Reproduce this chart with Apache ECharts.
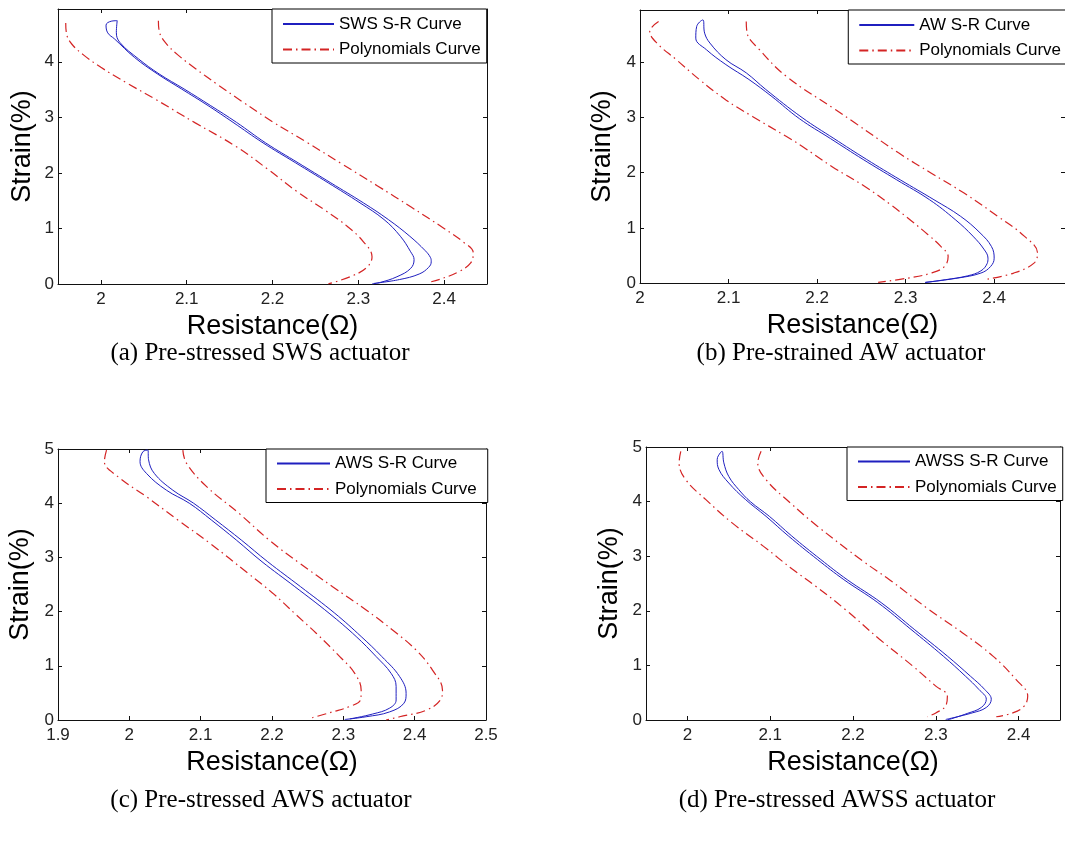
<!DOCTYPE html>
<html>
<head>
<meta charset="utf-8">
<script src="https://cdn.jsdelivr.net/npm/echarts@6.0.0/dist/echarts.min.js"></script>
<style>
html,body{margin:0;padding:0;background:#fff;}
#chart{width:1065px;height:841px;}
</style>
</head>
<body>
<div id="chart"></div>
<script>
// ---------------- DATA ----------------
const captions = ['(a) Pre-stressed SWS actuator', '(b) Pre-strained AW actuator', '(c) Pre-stressed AWS actuator', '(d) Pre-stressed AWSS actuator'];
const curveNames = ['SWS S-R Curve', 'AW S-R Curve', 'AWS S-R Curve', 'AWSS S-R Curve'];
const polyName = 'Polynomials Curve';
const xTitle = 'Resistance(\u03A9)';
const yTitle = 'Strain(%)';

// axis ranges [min, max]
const xRanges = [[1.95, 2.45], [2, 2.48], [1.9, 2.5], [1.95, 2.45]];
const yRanges = [[0, 4.95], [0, 4.95], [0, 5], [0, 5]];

// (a) Pre-stressed SWS: measured S-R loop [resistance, strain]
const swsLoop = [
  [2.316,0],[2.326,0.03],[2.345,0.13],[2.361,0.28],[2.365,0.44],[2.361,0.58],[2.349,0.86],[2.330,1.16],[2.302,1.46],
  [2.265,1.82],[2.227,2.18],[2.189,2.54],[2.154,2.91],[2.125,3.21],[2.094,3.51],[2.066,3.78],[2.039,4.08],[2.016,4.41],
  [2.008,4.52],[2.006,4.66],[2.012,4.73],
  [2.019,4.74],[2.018,4.53],[2.022,4.35],[2.044,4.05],[2.068,3.78],[2.097,3.51],[2.128,3.21],[2.158,2.91],[2.192,2.54],
  [2.230,2.18],[2.268,1.82],[2.306,1.46],[2.335,1.16],[2.360,0.86],[2.378,0.60],[2.384,0.48],[2.385,0.40],[2.382,0.30],
  [2.371,0.18],[2.348,0.08],[2.318,0.01]
];
const swsPolyLow = [
  [1.959,4.70],[1.960,4.50],[1.966,4.32],[1.980,4.12],[2.000,3.90],[2.030,3.62],[2.063,3.33],[2.110,2.90],[2.157,2.48],
  [2.195,2.06],[2.228,1.67],[2.262,1.32],[2.287,1.04],[2.306,0.76],[2.316,0.49],[2.310,0.30],[2.292,0.14],[2.265,0]
];
const swsPolyHigh = [
  [2.067,4.74],[2.068,4.55],[2.075,4.35],[2.090,4.12],[2.110,3.88],[2.135,3.60],[2.165,3.28],[2.200,2.92],[2.240,2.55],
  [2.280,2.17],[2.322,1.77],[2.362,1.38],[2.400,1.00],[2.422,0.76],[2.434,0.56],[2.431,0.38],[2.417,0.22],[2.398,0.10],[2.385,0.04]
];

// (b) Pre-strained AW
const awLoop = [
  [2.322,0.01],[2.345,0.06],[2.370,0.13],[2.385,0.22],[2.392,0.35],[2.393,0.45],[2.389,0.60],[2.376,0.85],[2.356,1.15],
  [2.327,1.51],[2.290,1.87],[2.252,2.24],[2.215,2.62],[2.180,2.98],[2.149,3.38],[2.123,3.69],[2.097,3.96],[2.075,4.23],
  [2.063,4.44],[2.064,4.65],[2.071,4.77],
  [2.073,4.53],[2.079,4.35],[2.097,4.05],[2.120,3.81],[2.142,3.51],[2.183,3.00],[2.219,2.62],[2.256,2.24],[2.294,1.87],
  [2.332,1.51],[2.362,1.21],[2.384,0.91],[2.397,0.66],[2.400,0.45],[2.396,0.30],[2.385,0.18],[2.359,0.09],[2.322,0.01]
];
const awPolyLow = [
  [2.021,4.74],[2.011,4.56],[2.019,4.35],[2.041,4.05],[2.067,3.69],[2.097,3.32],[2.127,3.02],[2.165,2.66],[2.183,2.48],
  [2.217,2.11],[2.254,1.75],[2.283,1.42],[2.307,1.12],[2.325,0.88],[2.340,0.66],[2.348,0.48],[2.344,0.30],[2.329,0.18],
  [2.303,0.09],[2.269,0.01]
];
const awPolyHigh = [
  [2.120,4.74],[2.121,4.53],[2.135,4.23],[2.165,3.75],[2.221,3.14],[2.243,2.90],[2.292,2.36],[2.329,1.99],[2.366,1.63],
  [2.404,1.21],[2.434,0.85],[2.449,0.54],[2.445,0.36],[2.422,0.18],[2.389,0.06]
];

// (c) Pre-stressed AWS
const awsLoop = [
  [2.309,0.02],[2.341,0.11],[2.365,0.22],[2.374,0.37],[2.374,0.62],[2.367,0.86],[2.346,1.17],[2.318,1.54],[2.280,1.97],
  [2.232,2.46],[2.186,2.92],[2.150,3.32],[2.115,3.69],[2.084,4.00],[2.052,4.24],[2.024,4.55],[2.015,4.77],[2.019,4.95],
  [2.026,4.98],[2.027,4.80],[2.035,4.55],[2.061,4.24],[2.090,4.00],[2.121,3.69],[2.157,3.32],[2.194,2.92],[2.240,2.46],
  [2.288,1.97],[2.325,1.54],[2.354,1.17],[2.379,0.80],[2.388,0.49],[2.385,0.31],[2.365,0.15],[2.332,0.06],[2.302,0.01]
];
const awsPolyLow = [
  [1.968,4.98],[1.965,4.77],[1.984,4.49],[2.024,4.12],[2.068,3.69],[2.113,3.26],[2.166,2.71],[2.201,2.34],[2.234,1.94],
  [2.262,1.60],[2.295,1.17],[2.316,0.86],[2.325,0.55],[2.324,0.37],[2.309,0.25],[2.285,0.15],[2.253,0.03]
];
const awsPolyHigh = [
  [2.075,4.98],[2.080,4.74],[2.108,4.31],[2.154,3.81],[2.196,3.32],[2.239,2.89],[2.285,2.46],[2.332,2.03],[2.369,1.66],
  [2.402,1.29],[2.425,0.92],[2.439,0.55],[2.436,0.37],[2.416,0.18],[2.379,0.06],[2.360,0.00]
];

// (d) Pre-stressed AWSS
const awssLoop = [
  [2.314,0.00],[2.338,0.12],[2.355,0.23],[2.361,0.38],[2.352,0.56],[2.336,0.80],[2.309,1.17],[2.270,1.66],[2.230,2.15],
  [2.189,2.57],[2.157,2.94],[2.122,3.37],[2.095,3.73],[2.070,4.04],[2.050,4.34],[2.038,4.59],[2.036,4.77],[2.040,4.90],
  [2.042,4.92],[2.044,4.71],[2.050,4.46],[2.062,4.22],[2.076,4.00],[2.099,3.73],[2.126,3.37],[2.161,2.94],[2.193,2.57],
  [2.234,2.15],[2.274,1.66],[2.314,1.17],[2.342,0.80],[2.359,0.56],[2.367,0.38],[2.361,0.23],[2.344,0.13],[2.312,0.01]
];
const awssPolyLow = [
  [1.992,4.92],[1.990,4.71],[1.998,4.40],[2.022,4.04],[2.054,3.61],[2.092,3.18],[2.127,2.76],[2.155,2.45],[2.191,2.02],
  [2.232,1.48],[2.272,0.99],[2.300,0.62],[2.314,0.44],[2.312,0.26],[2.300,0.13],[2.290,0.06]
];
const awssPolyHigh = [
  [2.089,4.92],[2.085,4.71],[2.095,4.40],[2.124,3.98],[2.157,3.55],[2.212,2.91],[2.244,2.57],[2.292,2.02],[2.332,1.60],
  [2.369,1.17],[2.397,0.74],[2.411,0.44],[2.407,0.26],[2.393,0.13],[2.373,0.06]
];

const loops = [swsLoop, awLoop, awsLoop, awssLoop];
const polyLows = [swsPolyLow, awPolyLow, awsPolyLow, awssPolyLow];
const polyHighs = [swsPolyHigh, awPolyHigh, awsPolyHigh, awssPolyHigh];

// ---------------- LAYOUT / STYLE ----------------
const grids = [
  {left: 58, top: 9, width: 429, height: 275},
  {left: 640, top: 10, width: 428, height: 273},
  {left: 58, top: 449, width: 428, height: 271},
  {left: 646, top: 447, width: 414, height: 273}
];
const legendPos = [
  {left: 272, top: 9, itemWidth: 51, padding: [6.5, 6, 5, 10]},
  {right: -7, top: 10, itemWidth: 55, padding: [6.5, 11, 5, 10]},
  {left: 266, top: 449, itemWidth: 53, padding: [6, 11, 5, 10]},
  {left: 847, top: 447, itemWidth: 52, padding: [6, 6, 5, 10]}
];
const yNameGaps = [22, 24, 24, 23];
const captionPos = [[260, 353], [841, 353], [261, 800], [837, 800]];

const SANS = '"Liberation Sans", Arial, sans-serif';
const SERIF = '"Liberation Serif", "Times New Roman", serif';
const BLUE = '#1f1fbf';
const RED = '#d42424';
const AXIS_COLOR = '#111';

function isMultiple(v, step) {
  const r = v / step;
  return Math.abs(r - Math.round(r)) < 1e-6;
}

function axisCommon(gridIndex, range, step, mirror) {
  const ax = {
    type: 'value',
    gridIndex: gridIndex,
    min: range[0],
    max: range[1],
    splitLine: {show: false},
    axisLine: {show: true, onZero: false, lineStyle: {color: AXIS_COLOR, width: 1}},
    axisTick: {show: true, inside: true, length: 4, lineStyle: {color: AXIS_COLOR, width: 1}},
  };
  if (isMultiple(range[0], step)) {
    ax.interval = step;
  } else {
    ax.splitNumber = Math.round((range[1] - range[0]) / step);
  }
  if (mirror) {
    ax.axisLabel = {show: false};
    ax.silent = true;
  } else {
    ax.axisLabel = {
      show: true, fontFamily: SANS, fontSize: 17, color: '#222',
      showMinLabel: isMultiple(range[0], step), showMaxLabel: isMultiple(range[1], step)
    };
  }
  return ax;
}

const xAxes = [], yAxes = [], series = [], legends = [], graphics = [];
for (let i = 0; i < 4; i++) {
  const xa = axisCommon(i, xRanges[i], 0.1, false);
  xa.position = 'bottom';
  xa.name = xTitle;
  xa.nameLocation = 'middle';
  xa.nameGap = 29;
  xa.nameTextStyle = {fontFamily: SANS, fontSize: 27, color: '#000'};
  xa.axisLabel.margin = 7;
  xAxes.push(xa);

  const ya = axisCommon(i, yRanges[i], 1, false);
  ya.position = 'left';
  ya.name = yTitle;
  ya.nameLocation = 'middle';
  ya.nameGap = yNameGaps[i];
  ya.nameTextStyle = {fontFamily: SANS, fontSize: 27, color: '#000'};
  ya.axisLabel.margin = 4;
  yAxes.push(ya);
}
for (let i = 0; i < 4; i++) {
  const xm = axisCommon(i, xRanges[i], 0.1, true);
  xm.position = 'top';
  xAxes.push(xm);
  const ym = axisCommon(i, yRanges[i], 1, true);
  ym.position = 'right';
  yAxes.push(ym);
}

for (let i = 0; i < 4; i++) {
  series.push({
    type: 'line', name: curveNames[i], xAxisIndex: i, yAxisIndex: i,
    data: loops[i], symbol: 'none', smooth: 0.4, clip: true,
    lineStyle: {color: BLUE, width: 1}, itemStyle: {color: BLUE},
    emphasis: {disabled: true}, animation: false
  });
  [polyLows[i], polyHighs[i]].forEach(function (d) {
    series.push({
      type: 'line', name: polyName, xAxisIndex: i, yAxisIndex: i,
      data: d, symbol: 'none', smooth: 0.4, clip: true,
      lineStyle: {color: RED, width: 1.2, type: [9, 4, 1.5, 4]}, itemStyle: {color: RED},
      emphasis: {disabled: true}, animation: false
    });
  });
  const lp = legendPos[i];
  const leg = {
    orient: 'vertical', top: lp.top, padding: lp.padding,
    itemGap: 8.5, itemWidth: lp.itemWidth, itemHeight: 14,
    borderColor: '#000', borderWidth: 1, borderRadius: 0, backgroundColor: '#fff',
    selectedMode: false,
    itemStyle: {opacity: 0},
    textStyle: {fontFamily: SANS, fontSize: 17, color: '#000'},
    data: [curveNames[i], polyName]
  };
  if (lp.left !== undefined) leg.left = lp.left; else leg.right = lp.right;
  legends.push(leg);
  graphics.push({
    type: 'text', x: captionPos[i][0], y: captionPos[i][1],
    style: {text: captions[i], font: '25px ' + SERIF, fill: '#000', textAlign: 'center', textVerticalAlign: 'middle'}
  });
}

const chart = echarts.init(document.getElementById('chart'), null, {renderer: 'canvas'});
chart.setOption({
  animation: false,
  backgroundColor: '#fff',
  grid: grids.map(function (g) { return Object.assign({containLabel: false, show: false}, g); }),
  xAxis: xAxes,
  yAxis: yAxes,
  legend: legends,
  series: series,
  graphic: graphics
});
</script>
</body>
</html>
